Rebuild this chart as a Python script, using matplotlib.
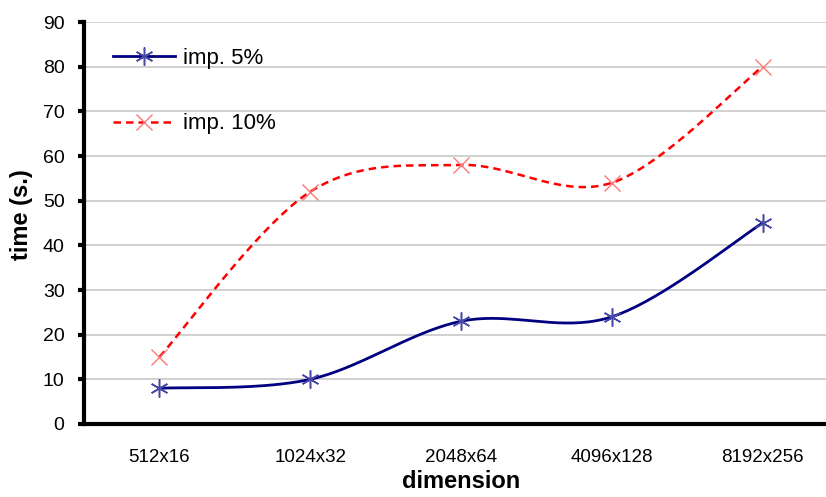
import numpy as np
import matplotlib.pyplot as plt

dims = ['512x16', '1024x32', '2048x64', '4096x128', '8192x256']
imp5 = [8, 10, 23, 24, 45]
imp10 = [15, 52, 58, 54, 80]
yticks = list(range(0, 91, 10))


def smooth(xs, ys, n=40):
  # Catmull-Rom style bezier, like a spreadsheet "smoothed line"
  xs = np.asarray(xs, float)
  ys = np.asarray(ys, float)
  px = np.concatenate([[xs[0]], xs, [xs[-1]]])
  py = np.concatenate([[ys[0]], ys, [ys[-1]]])
  outx, outy = [], []
  t = np.linspace(0, 1, n)
  for i in range(1, len(px) - 2):
    p0 = np.array([px[i], py[i]])
    p3 = np.array([px[i + 1], py[i + 1]])
    p1 = p0 + (np.array([px[i + 1], py[i + 1]]) - np.array([px[i - 1], py[i - 1]])) / 6
    p2 = p3 - (np.array([px[i + 2], py[i + 2]]) - np.array([px[i], py[i]])) / 6
    b = ((1 - t) ** 3)[:, None] * p0 + (3 * (1 - t) ** 2 * t)[:, None] * p1 \
        + (3 * (1 - t) * t ** 2)[:, None] * p2 + (t ** 3)[:, None] * p3
    outx.extend(b[:, 0])
    outy.extend(b[:, 1])
  return outx, outy


plt.rcParams['font.family'] = ['Liberation Sans', 'DejaVu Sans']
fig = plt.figure(figsize=(8.26, 4.97), dpi=100)
W, H = 826, 497
left, right, top, bottom = 84, 838, 22, 424
ax = fig.add_axes([left / W, 1 - bottom / H, (right - left) / W, (bottom - top) / H])

x = np.arange(len(dims))
sx, sy = smooth(x, imp5)
ax.plot(sx, sy, color='#000080', lw=2, zorder=3)
ax.plot(x, imp5, ls='none', marker=(6, 2, 0), ms=13, mew=1.1, color='#4848a8', zorder=4)
sx, sy = smooth(x, imp10)
ax.plot(sx, sy, color='#ff0000', lw=1.8, ls=(0, (3, 2)), zorder=3)
ax.plot(x, imp10, ls='none', marker='x', ms=11, mew=1.0, color='#ff7878', zorder=4)

# legend drawn as proxy lines
ax.plot([], [], color='#000080', lw=2, marker=(6, 2, 0), ms=13, mew=1.1, mec='#4848a8',
        label='imp. 5%')
ax.plot([], [], color='#ff0000', lw=1.8, ls=(0, (3, 2)), marker='x', ms=11, mew=1.0,
        mec='#ff7878', label='imp. 10%')
h, l = ax.get_legend_handles_labels()
ax.legend(h[-2:], l[-2:], loc='upper left', bbox_to_anchor=(0.012, 0.985), frameon=False,
          fontsize=16, handlelength=2.8, labelspacing=2.0, handletextpad=0.35)

ax.set_xlim(-0.5, len(dims) - 0.5)
ax.set_ylim(0, 90)
ax.set_yticks(yticks)
ax.set_xticks(x)
ax.set_xticklabels(dims, fontsize=13.5)
ax.tick_params(axis='x', length=0, pad=18)
ax.tick_params(axis='y', length=4, width=3, direction='out', labelsize=14, pad=10)
ax.yaxis.grid(True, color='#c8c8c8', lw=1.2)
ax.set_axisbelow(True)
for s in ['top', 'right']:
  ax.spines[s].set_visible(False)
for s in ['left', 'bottom']:
  ax.spines[s].set_linewidth(3)
ax.set_xlabel('dimension', fontsize=17, fontweight='bold', labelpad=3)
ax.set_ylabel('time (s.)', fontsize=17, fontweight='bold')
ax.yaxis.set_label_coords(-0.068, 0.522)

fig.savefig('out.png', dpi=100)
